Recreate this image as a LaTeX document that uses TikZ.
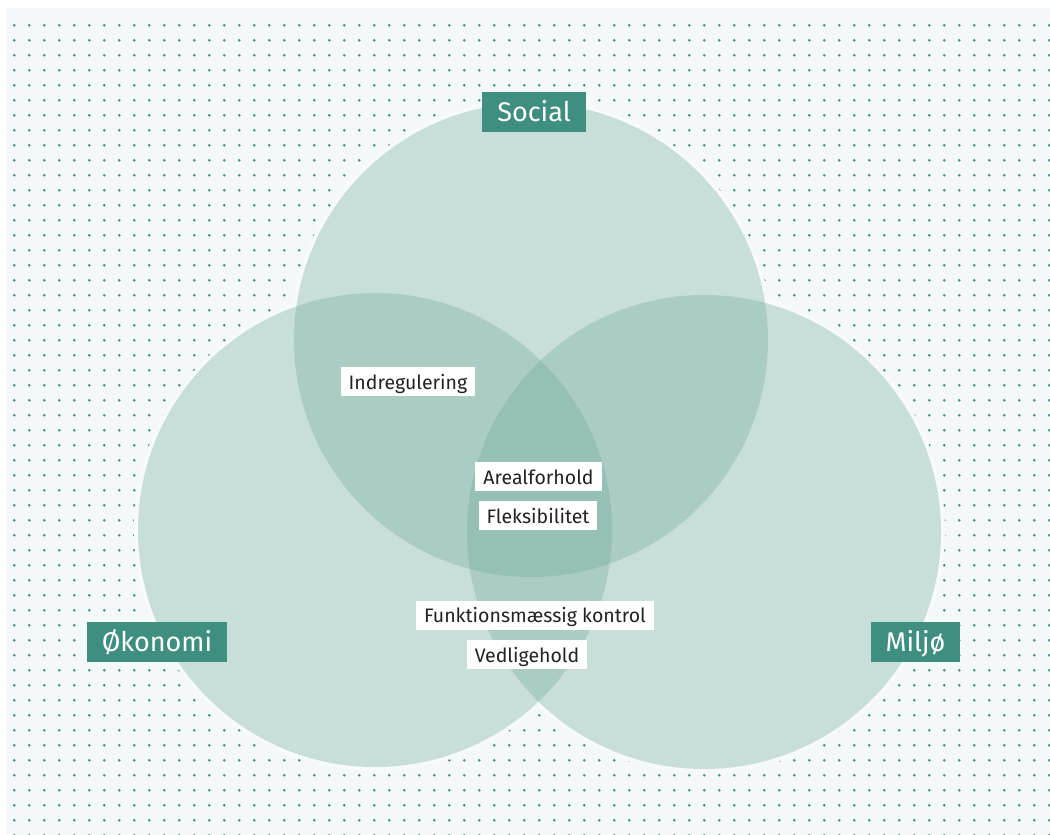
\documentclass[tikz,border=0pt]{standalone}
\usepackage{fontspec}
\setmainfont{Fira Sans}
\usetikzlibrary{positioning}

\definecolor{paper}{RGB}{244,248,249}
\definecolor{venn}{RGB}{115,171,155}
\definecolor{tealbox}{RGB}{62,143,128}
\definecolor{ink}{RGB}{34,34,34}

\tikzset{
  pillar/.style={fill=tealbox, text=white, font=\fontsize{27}{30}\selectfont,
    inner xsep=15pt, inner ysep=0pt, minimum height=40pt,
    text height=22.7pt, text depth=3.3pt},
  tag/.style={fill=white, text=ink, font=\fontsize{19.5}{22}\selectfont,
    inner xsep=8pt, inner ysep=0pt, minimum height=29pt,
    text height=16.5pt, text depth=1.5pt},
  sphere/.style={fill=venn, fill opacity=0.35},
}

\begin{document}
\begin{tikzpicture}[x=1pt,y=-1pt]
    \useasboundingbox (0,0) rectangle (1050,835);

    % Draw the background and the dot grid
    \fill[paper] (6,8) rectangle (1050,835);
    \foreach \i in {0,...,69}
        \foreach \j in {0,...,54}
            \fill[tealbox] (14.3+15*\i,25.3+15*\j) circle (1.4);

    % Clear the dots behind the circles
    \fill[white!30!paper] (531,340) circle (241) (375,530) circle (241) (704,532) circle (241);

    % Draw the three circles
    \fill[sphere] (531,340) circle (237);
    \fill[sphere] (375,530) circle (237);
    \fill[sphere] (704,532) circle (237);

    % Circle titles
    \node[pillar] (social) at (534,112) {Social};
    \node[pillar] (okonomi) at (157,642) {Økonomi};
    \node[pillar] (miljo) at (915.5,642) {Miljø};

    % Labels in the overlaps
    \node[tag] (indreg) at (408,381.5) {Indregulering};
    \node[tag] (areal) at (538.5,476.5) {Arealforhold};
    \node[tag] (fleks) at (538,515.5) {Fleksibilitet};
    \node[tag] (funk) at (535,615) {Funktionsmæssig kontrol};
    \node[tag] (vedl) at (527,654.5) {Vedligehold};
\end{tikzpicture}
\end{document}
